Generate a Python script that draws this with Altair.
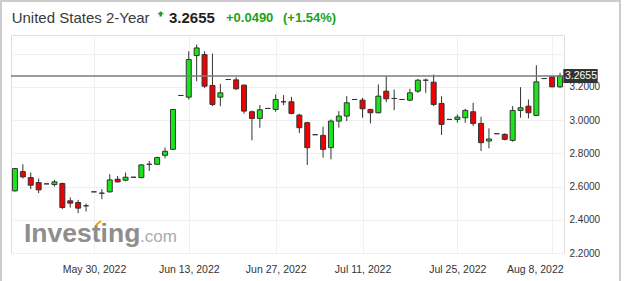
import altair as alt
import pandas as pd

# ---- data (daily candles, index-based x) ----
opens = [2.574, 2.690, 2.654, 2.624, 2.616, 2.612, 2.618, 2.514, 2.504, 2.484,
         2.568, 2.560, 2.568, 2.644, 2.638, 2.656, 2.654, 2.734, 2.734, 2.788,
         2.824, 3.148, 3.138, 3.388, 3.394, 3.208, 3.138, 3.244, 3.242, 3.210,
         3.050, 3.010, 3.070, 3.064, 3.110, 3.110, 3.030, 2.984, 2.912, 2.908,
         2.834, 2.994, 3.024, 3.124, 3.120, 3.064, 3.044, 3.174, 3.130, 3.124,
         3.120, 3.174, 3.240, 3.228, 3.100, 3.004, 3.004, 3.014, 3.050, 2.980,
         2.874, 2.918, 2.914, 2.878, 3.058, 3.084, 3.028, 3.250, 3.260, 3.200]
highs = [2.710, 2.734, 2.684, 2.648, 2.616, 2.640, 2.624, 2.534, 2.520, 2.498,
         2.568, 2.584, 2.674, 2.664, 2.684, 2.656, 2.734, 2.754, 2.780, 2.835,
         3.066, 3.148, 3.414, 3.454, 3.414, 3.400, 3.218, 3.244, 3.258, 3.214,
         3.058, 3.090, 3.070, 3.154, 3.150, 3.140, 3.038, 2.990, 2.912, 2.960,
         3.004, 3.054, 3.144, 3.124, 3.134, 3.068, 3.214, 3.264, 3.184, 3.124,
         3.188, 3.248, 3.250, 3.274, 3.144, 3.004, 3.034, 3.068, 3.104, 3.020,
         2.950, 2.918, 2.920, 3.084, 3.198, 3.124, 3.330, 3.250, 3.262, 3.284]
lows = [2.570, 2.648, 2.584, 2.560, 2.616, 2.600, 2.464, 2.474, 2.440, 2.450,
        2.568, 2.524, 2.564, 2.624, 2.632, 2.656, 2.650, 2.694, 2.730, 2.770,
        2.822, 3.148, 3.124, 3.234, 3.194, 3.084, 3.084, 3.244, 3.182, 3.038,
        2.878, 2.954, 3.070, 3.050, 3.090, 3.034, 2.922, 2.730, 2.912, 2.774,
        2.764, 2.954, 2.994, 3.124, 3.014, 2.980, 3.040, 3.108, 3.060, 3.124,
        3.114, 3.164, 3.164, 3.084, 2.910, 3.004, 2.984, 2.984, 2.964, 2.814,
        2.830, 2.918, 2.878, 2.870, 3.014, 3.010, 3.024, 3.250, 3.198, 3.194]
closes = [2.708, 2.658, 2.608, 2.580, 2.616, 2.628, 2.474, 2.500, 2.470, 2.484,
          2.568, 2.560, 2.640, 2.628, 2.656, 2.656, 2.730, 2.734, 2.774, 2.812,
          3.064, 3.148, 3.364, 3.434, 3.204, 3.094, 3.164, 3.244, 3.188, 3.054,
          3.010, 3.062, 3.070, 3.124, 3.110, 3.040, 2.954, 2.834, 2.912, 2.824,
          2.994, 3.024, 3.104, 3.124, 3.068, 3.044, 3.144, 3.128, 3.130, 3.124,
          3.164, 3.240, 3.240, 3.094, 2.974, 3.004, 3.018, 3.058, 2.980, 2.864,
          2.886, 2.918, 2.884, 3.058, 3.074, 3.044, 3.230, 3.250, 3.200, 3.2655]

tick_index = [10, 22, 33, 44, 56, 68]
tick_labels = ["May 30, 2022", "Jun 13, 2022", "Jun 27, 2022",
               "Jul 11, 2022", "Jul 25, 2022", "Aug 8, 2022"]
y_ticks = [2.2, 2.4, 2.6, 2.8, 3.0, 3.2, 3.4]

title_name = "United States 2-Year"
last_price = "3.2655"
change_abs = "+0.0490"
change_pct = "(+1.54%)"
brand = "Investing"
brand_tld = ".com"

# ---- styling ----
FONT = "Arial, 'Liberation Sans', sans-serif"
UP = "#19e619"
DOWN = "#f00000"
EDGE = "#333333"
TXT_GREEN = "#1aa31a"
W, H = 553, 218

df = pd.DataFrame({"i": list(range(len(opens))), "o": opens, "h": highs,
                   "l": lows, "c": closes})
df["dir"] = ["up" if c >= o else "down" for o, c in zip(opens, closes)]
last_df = pd.DataFrame({"c": [closes[-1]]})
one = pd.DataFrame({"k": [0]})

expr = "''"
for v, t in reversed(list(zip(tick_index, tick_labels))):
    expr = f"datum.value == {v} ? '{t}' : ({expr})"

xscale = alt.Scale(domain=[-0.5, len(opens) - 0.5], nice=False, zero=False, padding=0)
yscale = alt.Scale(domain=[2.2, 3.512], nice=False, zero=False, padding=0)

xaxis = alt.Axis(values=tick_index, labelExpr=expr, grid=True, gridColor="#f0f0f0",
                 ticks=False, domain=False, labelPadding=11, labelFontSize=10.5,
                 labelColor="#333", labelFont=FONT, labelFlush=15,
                 labelFlushOffset=11, labelOverlap=False, title=None)
yaxis = alt.Axis(orient="right", values=y_ticks,
                 labelExpr="datum.value > 3.3 ? '' : format(datum.value, '.4f')",
                 grid=True, gridColor="#f0f0f0", ticks=False, domain=False,
                 labelPadding=5, labelFontSize=10, labelColor="#333",
                 labelFont=FONT, labelOverlap=False, title=None)

base = alt.Chart(df)

wicks = base.mark_rule(color=EDGE, strokeWidth=1).encode(
    x=alt.X("i:Q", scale=xscale, axis=xaxis),
    y=alt.Y("l:Q", scale=yscale, axis=yaxis),
    y2="h:Q",
)
bodies = base.mark_bar(width=5, stroke=EDGE, strokeWidth=1).encode(
    x=alt.X("i:Q", scale=xscale, axis=xaxis),
    y=alt.Y("o:Q", scale=yscale, axis=yaxis),
    y2="c:Q",
    color=alt.Color("dir:N", scale=alt.Scale(domain=["up", "down"], range=[UP, DOWN]),
                    legend=None),
)


def label(text, x, y, size, color, weight="normal", align="left"):
    return alt.Chart(pd.DataFrame({"t": [text]})).mark_text(
        align=align, baseline="alphabetic", fontSize=size, fontWeight=weight,
        color=color, font=FONT,
    ).encode(text="t:N", x=alt.value(x), y=alt.value(y))


watermark = label(brand, 13, 206.5, 26.5, "#8e8e8e", "bold")
watermark2 = label(brand_tld, 129, 206.5, 17, "#ababab")
accent = alt.Chart(one).mark_rule(color="#f5a000", strokeWidth=2).encode(
    x=alt.value(85), x2=alt.value(90), y=alt.value(190), y2=alt.value(186))

price_line = alt.Chart(last_df).mark_rule(color="#7a7a7a", strokeWidth=1.5).encode(
    y=alt.Y("c:Q", scale=yscale, axis=yaxis), x=alt.value(0), x2=alt.value(W))

box_path = "M-1,-0.41L1,-0.41L1,0.41L-1,0.41Z"
price_box = alt.Chart(last_df).mark_point(
    shape=box_path, size=1183, filled=True, color="#333333", opacity=1, strokeWidth=0
).encode(x=alt.value(569.5), y=alt.Y("c:Q", scale=yscale, axis=yaxis))
price_text = alt.Chart(last_df).mark_text(
    align="center", baseline="middle", color="white", fontSize=10.5, font=FONT
).encode(x=alt.value(570), y=alt.Y("c:Q", scale=yscale, axis=yaxis),
         text=alt.Text("c:Q", format=".4f"))

t1 = label(title_name, 0.7, -12.3, 15, "#3a3a3a")
arrow_path = "M0,-0.8L1,0.1L0.35,0.1L0.35,0.7L-0.35,0.7L-0.35,0.1L-1,0.1Z"
arrow = alt.Chart(one).mark_point(shape=arrow_path, size=49, filled=True,
                                  color=TXT_GREEN, opacity=1, strokeWidth=0).encode(
    x=alt.value(149.7), y=alt.value(-21))
t2 = label(last_price, 158, -12.3, 15, "#222222", "bold")
t3 = label(change_abs, 215, -13.3, 13, TXT_GREEN, "bold")
t4 = label(change_pct, 272, -13.3, 13, TXT_GREEN, "bold")

border = alt.Chart(one).mark_rect(fillOpacity=0, stroke="#cccccc", strokeWidth=2).encode(
    x=alt.value(-10), x2=alt.value(609), y=alt.value(-34), y2=alt.value(260))

chart = alt.layer(
    watermark, watermark2, accent, wicks, bodies, price_line, price_box, price_text,
    t1, arrow, t2, t3, t4, border,
).properties(
    width=W, height=H,
    autosize=alt.AutoSizeParams(type="none"),
    padding={"left": 11, "top": 35, "right": 60, "bottom": 28},
).configure_view(stroke="#e6e6e6", strokeWidth=1).configure(background="white")

chart.save("out.html", embed_options={"renderer": "svg", "actions": False})
